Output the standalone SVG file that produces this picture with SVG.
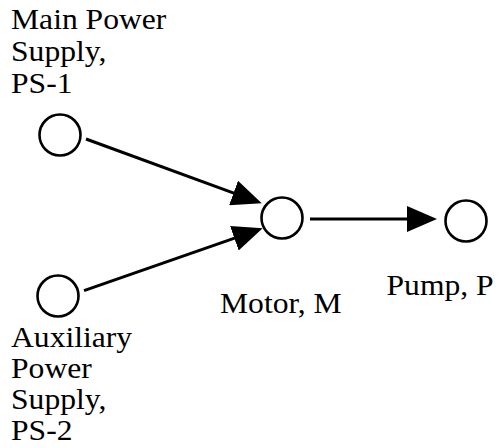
<svg xmlns="http://www.w3.org/2000/svg" width="499" height="448" viewBox="0 0 499 448">
<style>
.node{fill:#fff;stroke:#000;stroke-width:2.6}
.lbl{font-family:"Liberation Serif","Times New Roman",serif;font-size:29px;fill:#000}
.edge{stroke:#000;stroke-width:3;fill:none}
</style>
<defs>
<marker id="ah" markerUnits="userSpaceOnUse" viewBox="0 0 30 26" markerWidth="30" markerHeight="26" refX="1" refY="13" orient="auto">
<path d="M0,0 L30,13 L0,26 z" fill="#000"/>
</marker>
</defs>
<rect width="499" height="448" fill="#fff"/>
<g id="connectors">
<line class="edge" x1="86" y1="139" x2="234.5" y2="193.3" marker-end="url(#ah)"/>
<line class="edge" x1="84" y1="290.7" x2="235.3" y2="237.9" marker-end="url(#ah)"/>
<line class="edge" x1="310" y1="219" x2="408" y2="219" marker-end="url(#ah)"/>
</g>
<g id="ps1">
<circle class="node" cx="60" cy="135" r="20.5"/>
<text class="lbl" transform="translate(11,0) scale(1.09,1)"><tspan x="0" y="28.8">Main Power</tspan><tspan x="0" y="60.8">Supply,</tspan><tspan x="0" y="92.8">PS-1</tspan></text>
</g>
<g id="ps2">
<circle class="node" cx="58" cy="296" r="20.5"/>
<text class="lbl" transform="translate(11,0) scale(1.09,1)"><tspan x="0" y="346.7">Auxiliary</tspan><tspan x="0" y="377.9">Power</tspan><tspan x="0" y="409.2">Supply,</tspan><tspan x="0" y="440.5">PS-2</tspan></text>
</g>
<g id="motor">
<circle class="node" cx="282" cy="218" r="20.5"/>
<text class="lbl" transform="translate(220,0) scale(1.09,1)"><tspan x="0" y="313.5">Motor, M</tspan></text>
</g>
<g id="pump">
<circle class="node" cx="466" cy="221" r="20.5"/>
<text class="lbl" transform="translate(386.5,0) scale(1.09,1)"><tspan x="0" y="295.5">Pump, P</tspan></text>
</g>
</svg>
